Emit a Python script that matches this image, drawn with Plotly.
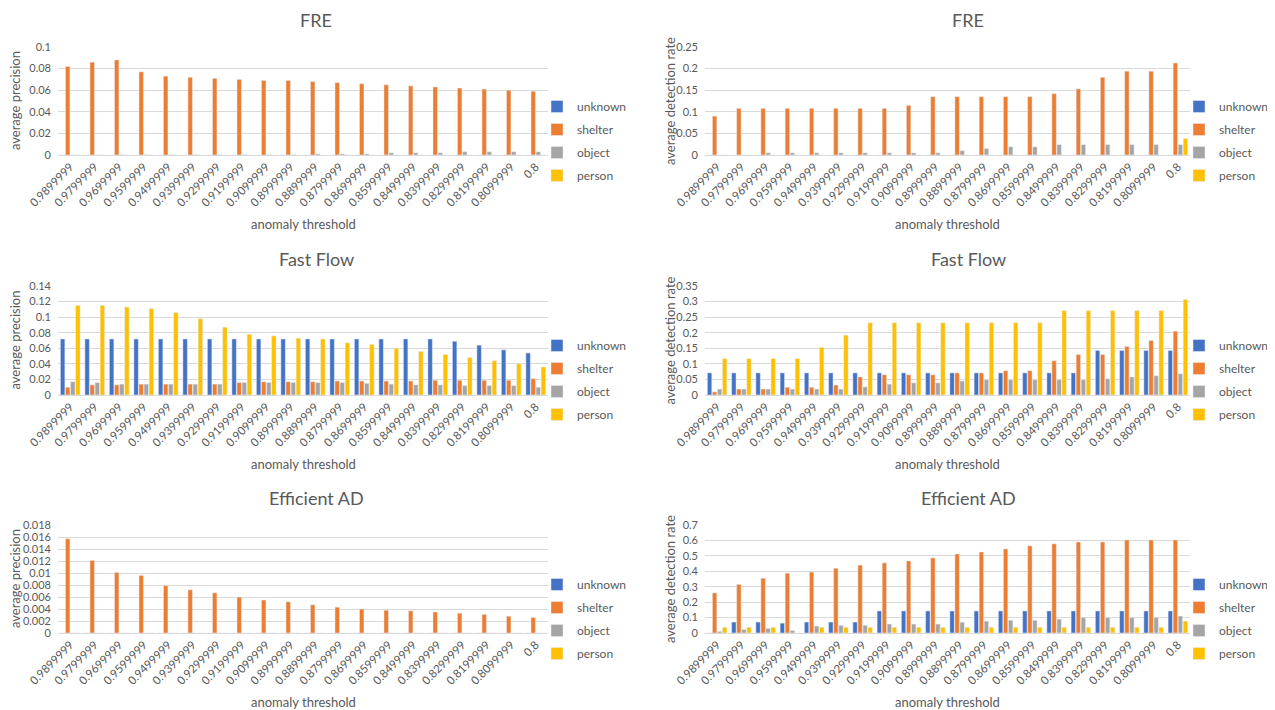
import plotly.graph_objects as go

thresholds = ["0.9899999", "0.9799999", "0.9699999", "0.9599999", "0.9499999",
              "0.9399999", "0.9299999", "0.9199999", "0.9099999", "0.8999999",
              "0.8899999", "0.8799999", "0.8699999", "0.8599999", "0.8499999",
              "0.8399999", "0.8299999", "0.8199999", "0.8099999", "0.8"]
series_names = ["unknown", "shelter", "object", "person"]

# FRE - average precision
fre_ap_unknown = [0] * 20
fre_ap_shelter = [0.082, 0.086, 0.088, 0.077, 0.073, 0.072, 0.071, 0.070, 0.069, 0.069,
                  0.068, 0.067, 0.066, 0.065, 0.064, 0.063, 0.062, 0.061, 0.060, 0.059]
fre_ap_object = [0, 0, 0.0003, 0.0003, 0.0003, 0.0003, 0.0003, 0.0003, 0.0003, 0.0003,
                 0.001, 0.001, 0.001, 0.002, 0.002, 0.002, 0.003, 0.003, 0.003, 0.003]
fre_ap_person = [0] * 20

# FRE - average detection rate
fre_dr_unknown = [0] * 20
fre_dr_shelter = [0.090, 0.108, 0.108, 0.108, 0.108, 0.108, 0.108, 0.108, 0.115, 0.135,
                  0.135, 0.135, 0.135, 0.135, 0.142, 0.153, 0.180, 0.194, 0.194, 0.213]
fre_dr_object = [0, 0, 0.005, 0.005, 0.005, 0.005, 0.005, 0.005, 0.005, 0.005,
                 0.010, 0.015, 0.019, 0.019, 0.024, 0.024, 0.024, 0.024, 0.024, 0.024]
fre_dr_person = [0] * 19 + [0.038]

# Fast Flow - average precision
ff_ap_unknown = [0.072] * 16 + [0.069, 0.064, 0.058, 0.054]
ff_ap_shelter = [0.010, 0.013, 0.013, 0.014, 0.014, 0.014, 0.014, 0.016, 0.017, 0.017,
                 0.017, 0.018, 0.018, 0.018, 0.018, 0.019, 0.019, 0.019, 0.019, 0.021]
ff_ap_object = [0.017, 0.016, 0.014, 0.014, 0.014, 0.014, 0.014, 0.016, 0.016, 0.016,
                0.016, 0.016, 0.015, 0.014, 0.013, 0.013, 0.012, 0.012, 0.012, 0.010]
ff_ap_person = [0.115, 0.115, 0.113, 0.111, 0.106, 0.098, 0.087, 0.078, 0.076, 0.073,
                0.072, 0.067, 0.065, 0.060, 0.056, 0.052, 0.048, 0.044, 0.040, 0.036]

# Fast Flow - average detection rate
ff_dr_unknown = [0.071] * 16 + [0.143] * 4
ff_dr_shelter = [0.010, 0.019, 0.019, 0.025, 0.025, 0.032, 0.058, 0.065, 0.065, 0.065,
                 0.071, 0.071, 0.078, 0.078, 0.110, 0.130, 0.130, 0.156, 0.175, 0.205]
ff_dr_object = [0.019, 0.019, 0.019, 0.019, 0.019, 0.019, 0.026, 0.035, 0.039, 0.039,
                0.045, 0.049, 0.049, 0.049, 0.049, 0.049, 0.052, 0.058, 0.062, 0.068]
ff_dr_person = [0.117, 0.117, 0.117, 0.117, 0.153, 0.192, 0.232, 0.232, 0.232, 0.232,
                0.232, 0.232, 0.232, 0.232, 0.271, 0.271, 0.271, 0.271, 0.271, 0.307]

# Efficient AD - average precision
ead_ap_unknown = [0] * 20
ead_ap_shelter = [0.0157, 0.0121, 0.0101, 0.0096, 0.0079, 0.0072, 0.0067, 0.0060, 0.0055, 0.0052,
                  0.0047, 0.0043, 0.0040, 0.0038, 0.0037, 0.0035, 0.0033, 0.0031, 0.0028, 0.0026]
ead_ap_object = [0] * 20
ead_ap_person = [0] * 20

# Efficient AD - average detection rate
ead_dr_unknown = [0, 0.071, 0.071, 0.064, 0.071, 0.071, 0.071] + [0.143] * 13
ead_dr_shelter = [0.260, 0.315, 0.355, 0.388, 0.395, 0.420, 0.440, 0.455, 0.467, 0.487,
                  0.512, 0.525, 0.545, 0.565, 0.578, 0.590, 0.590, 0.603, 0.603, 0.603]
ead_dr_object = [0.010, 0.023, 0.030, 0.016, 0.045, 0.050, 0.050, 0.058, 0.058, 0.058,
                 0.070, 0.077, 0.083, 0.083, 0.090, 0.100, 0.100, 0.100, 0.100, 0.110]
ead_dr_person = [0.037, 0.037, 0.037, 0, 0.037, 0.037, 0.037, 0.037, 0.037, 0.037,
                 0.037, 0.037, 0.037, 0.037, 0.037, 0.037, 0.037, 0.037, 0.037, 0.077]

colors = {"unknown": "#4472C4", "shelter": "#ED7D31", "object": "#A5A5A5", "person": "#FFC000"}

panels = [
    ("FRE", "average precision", [fre_ap_unknown, fre_ap_shelter, fre_ap_object, fre_ap_person], 0.1, 0.02, "left", 0),
    ("FRE", "average detection rate", [fre_dr_unknown, fre_dr_shelter, fre_dr_object, fre_dr_person], 0.25, 0.05, "right", 0),
    ("Fast Flow", "average precision", [ff_ap_unknown, ff_ap_shelter, ff_ap_object, ff_ap_person], 0.14, 0.02, "left", 1),
    ("Fast Flow", "average detection rate", [ff_dr_unknown, ff_dr_shelter, ff_dr_object, ff_dr_person], 0.35, 0.05, "right", 1),
    ("Efficient AD", "average precision", [ead_ap_unknown, ead_ap_shelter, ead_ap_object, ead_ap_person], 0.018, 0.002, "left", 2),
    ("Efficient AD", "average detection rate", [ead_dr_unknown, ead_dr_shelter, ead_dr_object, ead_dr_person], 0.7, 0.1, "right", 2),
]

W, H = 1275, 710
OFF = 8  # page body margin offset
col_px = {"left": (58, 548), "right": (705, 1190)}
row_px = [(47, 155), (286, 395), (525, 633)]
title_cx = {"left": 316, "right": 968}
ytitle_x = {"left": 15, "right": 670}
legend_x = {"left": 537, "right": 1179}


def px(v):
    return (v - OFF) / W


def py(v):
    return 1 - (v - OFF) / H


FONT = "Lato, 'Open Sans', sans-serif"
GREY = "#595959"

fig = go.Figure()
annotations = []
layout = {}
for i, (title, ylab, data, ymax, dtick, col, row) in enumerate(panels):
    k = i + 1
    sfx = "" if k == 1 else str(k)
    lg = "legend" if k == 1 else f"legend{k}"
    for name, vals in zip(series_names, data):
        fig.add_trace(go.Bar(
            x=thresholds, y=vals, name=name, marker_color=colors[name],
            xaxis=f"x{sfx}", yaxis=f"y{sfx}", legend=lg, legendgroup=f"{name}{k}",
        ))
    x0, x1 = col_px[col]
    t, b = row_px[row]
    layout[f"xaxis{sfx}"] = dict(
        domain=[px(x0), px(x1)], anchor=f"y{sfx}", tickangle=-45,
        tickfont=dict(size=11.5, color=GREY, family=FONT), showgrid=False,
        showline=False, ticks="", type="category", automargin=False,
        ticklabelstandoff=2,
    )
    layout[f"yaxis{sfx}"] = dict(
        domain=[py(b), py(t)], anchor=f"x{sfx}", range=[0, ymax], dtick=dtick,
        tickfont=dict(size=11, color=GREY, family=FONT), gridcolor="#D9D9D9",
        zeroline=True, zerolinecolor="#D9D9D9", zerolinewidth=1, showline=False, ticks="",
        ticklabelstandoff=6, automargin=False,
    )
    layout[lg] = dict(
        x=px(legend_x[col]), xanchor="left", y=py(t + 45), yanchor="top",
        font=dict(size=12, color=GREY, family=FONT), bgcolor="rgba(0,0,0,0)",
        itemwidth=30, traceorder="grouped", tracegroupgap=4,
    )
    annotations.append(dict(
        text=title, x=px(title_cx[col]), y=py(t - 27), xref="paper", yref="paper",
        showarrow=False, font=dict(size=18, color=GREY, family=FONT), xanchor="center", yanchor="middle",
    ))
    annotations.append(dict(
        text=ylab, x=px(ytitle_x[col]), y=py((t + b) / 2), xref="paper", yref="paper",
        showarrow=False, textangle=-90, font=dict(size=13, color=GREY, family=FONT),
        xanchor="center", yanchor="middle",
    ))
    annotations.append(dict(
        text="anomaly threshold", x=px((x0 + x1) / 2), y=py(b + 69), xref="paper", yref="paper",
        showarrow=False, font=dict(size=13, color=GREY, family=FONT), xanchor="center", yanchor="middle",
    ))

fig.update_layout(
    width=W, height=H, margin=dict(l=0, r=0, t=0, b=0, autoexpand=False),
    paper_bgcolor="white", plot_bgcolor="white",
    barmode="group", bargap=0.17, bargroupgap=0.12,
    font=dict(family=FONT, color=GREY),
    annotations=annotations, **layout,
)
fig.write_html("out.html")
